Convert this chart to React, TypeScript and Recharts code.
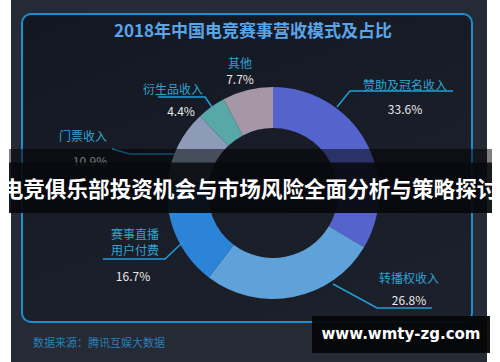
import { PieChart, Pie, Cell } from 'recharts';

const categories = ['赞助及冠名收入', '转播权收入', '赛事直播用户付费', '门票收入', '衍生品收入', '其他'];
const shares = [33.6, 26.8, 16.7, 10.9, 4.4, 7.7];
const title = '2018年中国电竞赛事营收模式及占比';
const source = '数据来源：腾讯互娱大数据';
const banner = '电竞俱乐部投资机会与市场风险全面分析与策略探讨';
const watermark = 'www.wmty-zg.com';

const data = categories.map((name, i) => ({ name, value: shares[i] }));

const colors = ['#5464cc', '#5ea2d9', '#2c84d9', '#8e9bb8', '#59a8a8', '#a697a6'];
const font = '"Noto Sans CJK SC", "Noto Sans", sans-serif';

// where each label sits, relative to the pie centre
const labelLayout = [
  { name: [132, -109], pct: [132, -85], line: [[180, -102], [77, -102], [64, -86]] },
  { name: [136, 84], pct: [136, 106], line: [[60, 91], [104, 115], [159, 115]] },
  { name: [-138, 40], pct: [-140, 82], line: [[-170, 66], [-108, 66], [-90, 49]] },
  { name: [-190, -58], pct: [-183, -33], line: [[-161, -44], [-143, -39], [-99, -39]] },
  { name: [-100, -105], pct: [-92, -83], line: [[-115, -96], [-68, -96], [-61, -86]] },
  { name: [-33, -131], pct: [-33, -115], line: [] as number[][] },
];

const renderLabel = (props: any) => {
  const { cx, cy, index, value, name } = props;
  const l = labelLayout[index];
  const lines = name.length > 7 ? [name.slice(0, 4), name.slice(4)] : [name];
  return (
    <g>
      {l.line.length > 0 && (
        <polyline
          points={l.line.map((p) => `${cx + p[0]},${cy + p[1]}`).join(' ')}
          fill="none"
          stroke="#1f9fd6"
          strokeWidth={1.5}
        />
      )}
      {lines.map((t: string, k: number) => (
        <text
          key={k}
          x={cx + l.name[0]}
          y={cy + l.name[1] + k * 16}
          textAnchor="middle"
          dominantBaseline="central"
          fill="#2ea3d4"
          fontSize={12}
          fontFamily={font}
        >
          {t}
        </text>
      ))}
      <text
        x={cx + l.pct[0]}
        y={cy + l.pct[1]}
        textAnchor="middle"
        dominantBaseline="central"
        fill="#e8e8e8"
        fontSize={12}
        fontFamily={font}
      >
        {`${Number(value).toFixed(1)}%`}
      </text>
    </g>
  );
};

export default function App() {
  return (
    <div style={{ position: 'absolute', left: 0, top: 0, width: 500, height: 362, background: '#fff', overflow: 'hidden', fontFamily: font }}>
      <div style={{ position: 'absolute', left: 11, top: 0, width: 476, height: 362, background: '#262a34' }} />
      <div
        style={{
          position: 'absolute', left: 21, top: 13, width: 448, height: 306,
          border: '2px solid #1b8fd0', borderRadius: 10,
          background: 'linear-gradient(160deg, #131722 0%, #1a1e29 60%, #1c202b 100%)',
        }}
      />
      <div style={{ position: 'absolute', left: 0, top: 18, width: 506, textAlign: 'center', color: '#5aa5e6', fontSize: 17, fontWeight: 700, lineHeight: '24px' }}>
        {title}
      </div>
      <div style={{ position: 'absolute', left: 33, top: 334, color: '#2a7fb8', fontSize: 11, lineHeight: '16px' }}>
        {source}
      </div>
      <div style={{ position: 'absolute', left: 0, top: 0 }}>
        <PieChart width={500} height={362}>
          <Pie
            data={data}
            dataKey="value"
            nameKey="name"
            cx={268}
            cy={188}
            innerRadius={65}
            outerRadius={106}
            startAngle={90}
            endAngle={-270}
            stroke="none"
            label={renderLabel}
            labelLine={false}
            isAnimationActive={false}
          >
            {data.map((d, i) => (
              <Cell key={d.name} fill={colors[i]} />
            ))}
          </Pie>
        </PieChart>
      </div>
      <div
        style={{
          position: 'absolute', left: 9, top: 149, width: 483, height: 64,
          background: 'linear-gradient(180deg, rgba(0,0,0,0.5) 0px, rgba(0,0,0,0.5) 13px, rgba(6,8,12,0.93) 14px, rgba(6,8,12,0.93) 100%)',
        }}
      />
      <div style={{ position: 'absolute', left: 0, top: 172, width: 500, textAlign: 'center', color: '#fff', fontSize: 21.6, fontWeight: 700, lineHeight: '32px', whiteSpace: 'nowrap' }}>
        {banner}
      </div>
      <div
        style={{
          position: 'absolute', left: 312, top: 316, width: 178, height: 37,
          background: 'rgba(5,6,8,0.95)', color: '#fff', fontFamily: '"DejaVu Sans", sans-serif',
          fontWeight: 700, fontSize: 15, lineHeight: '37px', textAlign: 'center',
        }}
      >
        {watermark}
      </div>
    </div>
  );
}
